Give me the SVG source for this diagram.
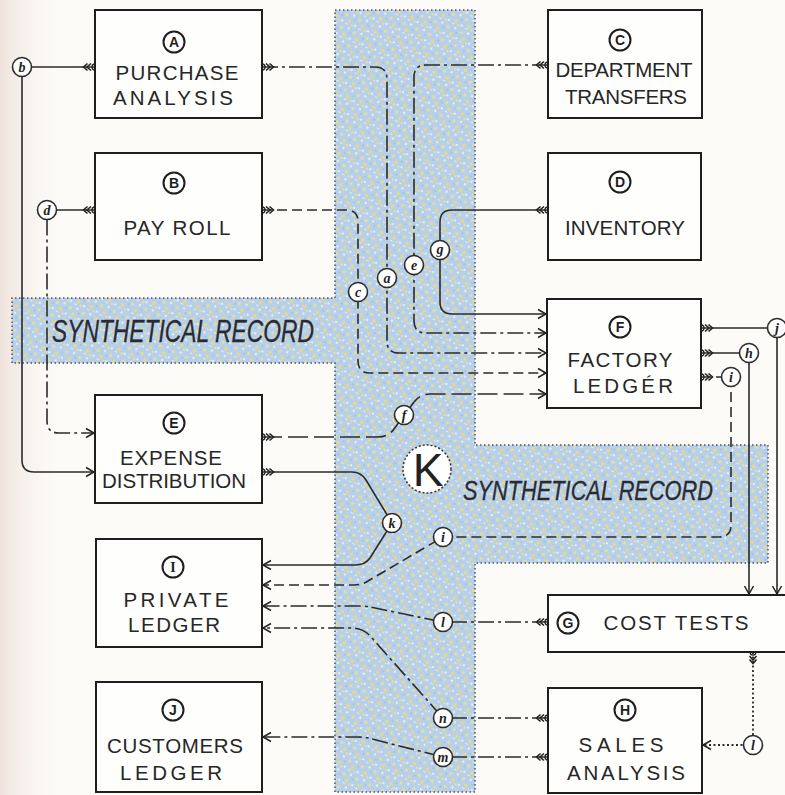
<svg xmlns="http://www.w3.org/2000/svg" width="785" height="795" viewBox="0 0 785 795">
<defs>
<style>
.box{fill:#fefefd;stroke:#1e1e1e;stroke-width:2}
.badge{fill:#fff;stroke:#1e1e1e;stroke-width:2}
.bl{font-family:"Liberation Sans",Arial,sans-serif;font-weight:bold;font-size:14px;fill:#1e1e1e;text-anchor:middle}
.lbl{font-family:"Liberation Sans",Arial,sans-serif;font-size:20.5px;fill:#262626;text-anchor:middle}
.syn{font-family:"Liberation Sans",Arial,sans-serif;font-style:italic;font-size:31px;fill:#2a2a36;stroke:#2a2a36;stroke-width:0.3}
.ln{fill:none;stroke:#2b2b2b;stroke-width:1.6}
.solid{}
.dash{stroke-dasharray:10 5}
.ldash{stroke-dasharray:20 6}
.dd{stroke-dasharray:16 4 3 4}
.dot{stroke-dasharray:2 2.5;stroke-width:1.8}
.jc{fill:#fff;stroke:#2b2b2b;stroke-width:1.6}
.jl{font-family:"Liberation Serif","Times New Roman",serif;font-style:italic;font-weight:bold;font-size:14px;fill:#222;text-anchor:middle}
</style>
<linearGradient id="paper" x1="0" y1="0" x2="1" y2="0">
<stop offset="0" stop-color="#efe3dc"/>
<stop offset="1" stop-color="#fcfbf8" stop-opacity="0"/>
</linearGradient>
<pattern id="tex" width="14" height="14" patternUnits="userSpaceOnUse" patternTransform="rotate(23)">
<rect width="14" height="14" fill="#b6cfea"/>
<circle cx="3" cy="4" r="1.7" fill="#e9df98"/>
<circle cx="10" cy="2" r="1.2" fill="#f4f0d2"/>
<circle cx="8" cy="9" r="1.9" fill="#e4d98f"/>
<circle cx="1" cy="11" r="1.1" fill="#f2f5f6"/>
<circle cx="12" cy="12" r="1.3" fill="#e8de9c"/>
<rect x="5" y="12" width="2.5" height="1" fill="#f5f1d5"/>
<circle cx="13" cy="6" r="0.9" fill="#9fbde0"/>
</pattern>
<marker id="fe" markerUnits="userSpaceOnUse" markerWidth="16" markerHeight="12" viewBox="-2 -6 16 12" refX="0" refY="0" orient="auto" overflow="visible">
<path d="M0,-3 A3,3 0 0 1 0,3" fill="none" stroke="#222" stroke-width="1.3"/>
<path d="M4,-3.5 L8,0 L4,3.5 M7.5,-3.5 L11.5,0 L7.5,3.5" fill="none" stroke="#222" stroke-width="1.6"/>
</marker>
<marker id="ar" markerUnits="userSpaceOnUse" markerWidth="12" markerHeight="12" viewBox="-10 -6 12 12" refX="0" refY="0" orient="auto" overflow="visible">
<path d="M-8,-4.5 L0,0 L-8,4.5" fill="none" stroke="#222" stroke-width="1.5"/>
</marker>
</defs>

<rect width="785" height="795" fill="#fcfbf8"/>
<rect width="70" height="795" fill="url(#paper)"/>

<g id="synthetical-record">
<path d="M335,10 H475 V445 H768 V563 H475 V792 H335 V363 H12 V298 H335 Z" fill="url(#tex)" stroke="#4a5072" stroke-width="1.5" stroke-dasharray="1.5 2.5"/>
<text class="syn" x="52" y="342" textLength="262" lengthAdjust="spacingAndGlyphs">SYNTHETICAL RECORD</text>
<text class="syn" x="463" y="500" textLength="250" lengthAdjust="spacingAndGlyphs" style="font-size:27px">SYNTHETICAL RECORD</text>
</g>

<g id="node-K">
<circle cx="427" cy="469" r="24" fill="#fff" stroke="#333" stroke-width="1.5" stroke-dasharray="2 2"/>
<text x="428" y="486" font-family="Liberation Sans, Arial, sans-serif" font-size="46" fill="#222" text-anchor="middle">K</text>
</g>

<g id="connectors" class="connectors">
<path class="ln solid" d="M95,67 H31.5" marker-start="url(#fe)"/>
<path class="ln solid" d="M22,76.5 V460 Q22,472 34,472 H94" marker-end="url(#ar)"/>
<path class="ln solid" d="M95,210 H56.5" marker-start="url(#fe)"/>
<path class="ln dd" d="M47,219.5 V421 Q47,433 59,433 H94" marker-end="url(#ar)"/>
<path class="ln dd" d="M262,67 H375 Q387,67 387,79 V341 Q387,353 399,353 H546" marker-start="url(#fe)" marker-end="url(#ar)"/>
<path class="ln dd" d="M548,65 H426 Q414,65 414,77 V321 Q414,333 426,333 H546" marker-start="url(#fe)" marker-end="url(#ar)"/>
<path class="ln solid" d="M548,210 H452 Q440,210 440,222 V302 Q440,314 452,314 H546" marker-start="url(#fe)" marker-end="url(#ar)"/>
<path class="ln dash" d="M262,210 H346 Q358,210 358,222 V361 Q358,373 370,373 H546" marker-start="url(#fe)" marker-end="url(#ar)"/>
<path class="ln ldash" d="M262,437 H378 Q388,437 394,429 L414,402 Q420,394 430,394 H546" marker-start="url(#fe)" marker-end="url(#ar)"/>
<path class="ln solid" d="M262,472 H352 Q361,472 366,480 L392,523 L370,558 Q365,565 355,565 H263" marker-start="url(#fe)" marker-end="url(#ar)"/>
<path class="ln solid" d="M701,328 H777 V594" marker-start="url(#fe)" marker-end="url(#ar)"/>
<path class="ln solid" d="M701,353 H749 V594" marker-start="url(#fe)" marker-end="url(#ar)"/>
<path class="ln dash" d="M701,377 H731 V525 Q731,537 719,537 H443 L368,581 Q362,585 354,585 H263" marker-start="url(#fe)" marker-end="url(#ar)"/>
<path class="ln dd" d="M548,622 H443 L370,607 Q366,606 360,606 H263" marker-start="url(#fe)" marker-end="url(#ar)"/>
<path class="ln dd" d="M548,718 H443 L372,638 Q364,628 352,628 H263" marker-start="url(#fe)" marker-end="url(#ar)"/>
<path class="ln dd" d="M548,757 H443 L372,739 Q366,737 358,737 H263" marker-start="url(#fe)" marker-end="url(#ar)"/>
<path class="ln dot" d="M753,652 V745 H703" marker-start="url(#fe)" marker-end="url(#ar)"/>
</g>

<g id="junctions">
<g id="j-b"><circle class="jc" cx="22" cy="67" r="9.5"/><text class="jl" x="22" y="72">b</text></g>
<g id="j-d"><circle class="jc" cx="47" cy="210" r="9.5"/><text class="jl" x="47" y="215">d</text></g>
<g id="j-c"><circle class="jc" cx="358" cy="292" r="9.5"/><text class="jl" x="358" y="297">c</text></g>
<g id="j-a"><circle class="jc" cx="387" cy="278" r="9.5"/><text class="jl" x="387" y="283">a</text></g>
<g id="j-e"><circle class="jc" cx="414" cy="265" r="9.5"/><text class="jl" x="414" y="270">e</text></g>
<g id="j-g"><circle class="jc" cx="440" cy="250" r="9.5"/><text class="jl" x="440" y="254">g</text></g>
<g id="j-f"><circle class="jc" cx="404" cy="415" r="9.5"/><text class="jl" x="404" y="420">f</text></g>
<g id="j-k"><circle class="jc" cx="392" cy="523" r="9.5"/><text class="jl" x="392" y="528">k</text></g>
<g id="j-i"><circle class="jc" cx="443" cy="537" r="9.5"/><text class="jl" x="443" y="542">i</text></g>
<g id="j-l"><circle class="jc" cx="443" cy="622" r="9.5"/><text class="jl" x="443" y="627">l</text></g>
<g id="j-n"><circle class="jc" cx="443" cy="718" r="9.5"/><text class="jl" x="443" y="723">n</text></g>
<g id="j-m"><circle class="jc" cx="443" cy="757" r="9.5"/><text class="jl" x="443" y="762">m</text></g>
<g id="j-j"><circle class="jc" cx="777" cy="328" r="9.5"/><text class="jl" x="777" y="333">j</text></g>
<g id="j-h"><circle class="jc" cx="749" cy="353" r="9.5"/><text class="jl" x="749" y="358">h</text></g>
<g id="j-i2"><circle class="jc" cx="731" cy="377" r="9.5"/><text class="jl" x="731" y="382">i</text></g>
<g id="j-l2"><circle class="jc" cx="753" cy="745" r="9.5"/><text class="jl" x="753" y="750">l</text></g>
</g>

<g id="node-A">
<rect class="box" x="95" y="10" width="167" height="108"/>
<circle class="badge" cx="174" cy="42" r="10.5"/><text class="bl" x="174" y="47">A</text>
<text class="lbl" x="177" y="80" textLength="123">PURCHASE</text>
<text class="lbl" x="173" y="105" textLength="120">ANALYSIS</text>
</g>
<g id="node-B">
<rect class="box" x="95" y="153" width="167" height="107"/>
<circle class="badge" cx="174" cy="183" r="10.5"/><text class="bl" x="174" y="188">B</text>
<text class="lbl" x="177" y="235" textLength="107">PAY ROLL</text>
</g>
<g id="node-C">
<rect class="box" x="548" y="10" width="154" height="108"/>
<circle class="badge" cx="620" cy="40" r="10.5"/><text class="bl" x="620" y="45">C</text>
<text class="lbl" x="624" y="77" textLength="137">DEPARTMENT</text>
<text class="lbl" x="626" y="104" textLength="122">TRANSFERS</text>
</g>
<g id="node-D">
<rect class="box" x="548" y="153" width="153" height="107"/>
<circle class="badge" cx="620" cy="182" r="10.5"/><text class="bl" x="620" y="187">D</text>
<text class="lbl" x="625" y="235" textLength="120">INVENTORY</text>
</g>
<g id="node-E">
<rect class="box" x="95" y="395" width="167" height="108"/>
<circle class="badge" cx="174" cy="423" r="10.5"/><text class="bl" x="174" y="428">E</text>
<text class="lbl" x="171" y="465" textLength="102">EXPENSE</text>
<text class="lbl" x="174" y="488" textLength="144">DISTRIBUTION</text>
</g>
<g id="node-F">
<rect class="box" x="547" y="299" width="154" height="109"/>
<circle class="badge" cx="620" cy="327" r="10.5"/><text class="bl" x="620" y="332">F</text>
<text class="lbl" x="620" y="367" textLength="105">FACTORY</text>
<text class="lbl" x="623" y="393" textLength="100">LEDGÉR</text>
</g>
<g id="node-G">
<rect class="box" x="548" y="595" width="260" height="57"/>
<circle class="badge" cx="568" cy="623" r="10.5"/><text class="bl" x="568" y="628">G</text>
<text class="lbl" x="676" y="630" textLength="145">COST TESTS</text>
</g>
<g id="node-H">
<rect class="box" x="548" y="688" width="154" height="105"/>
<circle class="badge" cx="625" cy="710" r="10.5"/><text class="bl" x="625" y="715">H</text>
<text class="lbl" x="621" y="752" textLength="85">SALES</text>
<text class="lbl" x="626" y="780" textLength="118">ANALYSIS</text>
</g>
<g id="node-I">
<rect class="box" x="96" y="539" width="166" height="108"/>
<circle class="badge" cx="173" cy="567" r="10.5"/><text class="bl" x="173" y="572" style="font-family:'Liberation Serif',serif">I</text>
<text class="lbl" x="176" y="607" textLength="105">PRIVATE</text>
<text class="lbl" x="174" y="632" textLength="92">LEDGER</text>
</g>
<g id="node-J">
<rect class="box" x="96" y="682" width="166" height="110"/>
<circle class="badge" cx="173" cy="710" r="10.5"/><text class="bl" x="173" y="715">J</text>
<text class="lbl" x="175" y="753" textLength="136">CUSTOMERS</text>
<text class="lbl" x="171" y="780" textLength="102">LEDGER</text>
</g>
</svg>
